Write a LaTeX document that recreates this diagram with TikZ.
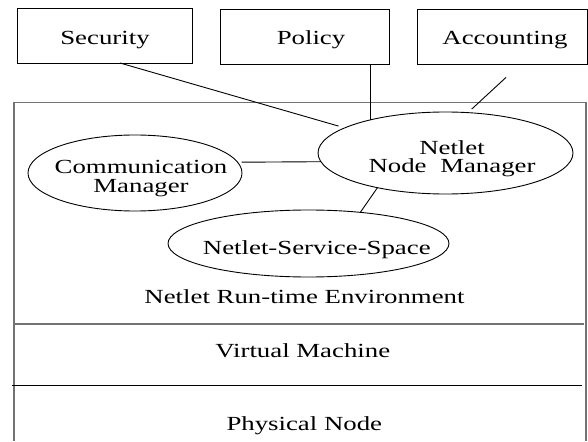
\documentclass[tikz,border=0pt]{standalone}
\usepackage{fontspec}
\setmainfont{Liberation Serif}[FakeStretch=1.34]
\usetikzlibrary{shapes.geometric,calc}
\definecolor{framegray}{RGB}{115,115,115}
\begin{document}
\begin{tikzpicture}[x=1pt,y=-1pt,
  every node/.style={inner sep=0pt,outer sep=0pt},
  topbox/.style={draw=black,line width=0.9pt,minimum height=55pt},
  oval/.style={draw=black,ellipse,line width=0.9pt},
  txt/.style={font=\fontsize{20}{18.4}\selectfont,align=center},
  btxt/.style={font=\fontsize{20}{18.4}\selectfont,anchor=base},
  conn/.style={draw=black,line width=0.9pt},
  frame/.style={draw=framegray,line width=1.6pt}]
\useasboundingbox (0,0) rectangle (588,441);
% environment frame and layers
\draw[frame] (14,441) -- (14,102.7) -- (586,102.7) -- (586,441);
\draw[frame] (14,323.7) -- (584,323.7);
\draw[conn] (12,385) -- (582,385);
% top boxes
\node[topbox,minimum width=175pt] (sec) at (104.5,35.5) {};
\node[topbox,minimum width=169pt] (pol) at (304.5,36.5) {};
\node[topbox,minimum width=170pt] (acc) at (502,37) {};
\node[btxt] (sect) at (105,45) {Security};
\node[btxt] (polt) at (311,45) {Policy};
\node[btxt] (acct) at (505,45) {Accounting};
% ellipses
\node[oval,minimum width=255pt,minimum height=82pt] (nm) at (445.5,153) {};
\node[oval,minimum width=214pt,minimum height=76pt] (cm) at (135,173) {};
\node[oval,minimum width=281pt,minimum height=67pt] (ns) at (308.5,243.5) {};
\node[txt] (nmt) at (452,158.8) {Netlet\\Node\hspace{0.35em} Manager};
\node[txt] (cmt) at (141,178.5) {Communication\\Manager};
\node[btxt] (nst) at (316.8,254) {Netlet-Service-Space};
% layer labels
\node[btxt] (rte) at (304.5,303) {Netlet Run-time Environment};
\node[btxt] (vm) at (302.8,357) {Virtual Machine};
\node[btxt] (pn) at (304.3,430) {Physical Node};
% connectors
\draw[conn,shorten >=6.5pt] ($(sec.south)+(15.5,0)$) -- (nm.166.7);
\draw[conn] (pol.south -| nm.156.4) -- (nm.156.4);
\draw[conn,shorten <=19pt,shorten >=5.2pt] ($(acc.south)+(18,0)$) -- (nm.61.7);
\draw[conn,shorten <=4pt] (cm.6.1) -- (nm.184.1);
\draw[conn] (nm.207.7) -- (ns.31);
\end{tikzpicture}
\end{document}
